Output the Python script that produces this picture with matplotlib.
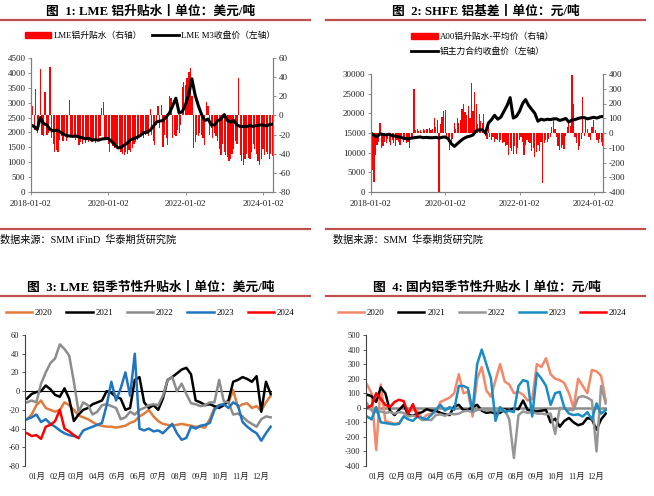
import numpy as np
import pandas as pd
import matplotlib
matplotlib.use("Agg")
import matplotlib.pyplot as plt
import matplotlib.dates as mdates
from matplotlib.lines import Line2D
from matplotlib.patches import Patch

plt.rcParams['font.family'] = ['Liberation Serif', 'Noto Sans CJK SC']
plt.rcParams['axes.unicode_minus'] = False

# ---------------- data ----------------
# LME: M3 close (monthly, USD/t) and premium/discount (semi-monthly, USD/t)
lme_price = [2250, 2200, 2100, 2500, 2300, 2250, 2100, 2050, 2080, 2020, 1950, 1900,
             1880, 1870, 1880, 1850, 1820, 1790, 1800, 1750, 1760, 1740, 1780, 1790,
             1800, 1700, 1600, 1480, 1500, 1580, 1650, 1760, 1800, 1840, 1900, 2000,
             2000, 2080, 2200, 2350, 2380, 2400, 2520, 2650, 2900, 3150, 2650, 2700,
             2950, 3300, 3800, 3250, 2900, 2600, 2400, 2450, 2250, 2250, 2400, 2450,
             2600, 2400, 2350, 2400, 2250, 2200, 2200, 2200, 2230, 2200, 2230, 2250,
             2250, 2220, 2260, 2280]
lme_prem = [-12, 10, -15, 28, -18, -10, 49, -20, -22, 25, -20, -18,
            51, -24, -30, -38, -36, -38, -26, -22, -27, -20, -27, -24,
            16, -22, -24, -20, -26, -24, -31, -28, -30, -26, -29, -25,
            -28, -24, -28, -26, -29, -27, -26, -22, 8, 14, -25, -26,
            -30, -38, -28, -32, -34, -30, -33, -35, -38, -40, -41, -38,
            -40, -36, -38, -34, -30, -28, -26, -22, -20, -18, -24, -20,
            -17, -22, 7, -20, -27, -31, -10, 10, -13, 11, -33, -20,
            -24, -31, 20, 18, -24, -20, -22, -15, -18, -10, 30, 35,
            32, 39, 45, 50, 20, -34, -28, -20, -22, -18, -20, -24,
            -31, 14, 10, -20, -13, -24, -18, -22, -27, -35, -41, -30,
            -38, -41, -43, -48, -45, -40, -35, -27, -30, 39, -41, -48,
            -52, -45, -40, -44, -45, -38, -30, -35, -40, -48, -52, -45,
            -35, -41, -38, -40, -45, -40, -42]

# SHFE: main contract close (monthly, CNY/t) and A00 premium (semi-monthly, CNY/t)
shfe_price = [15000, 14400, 14000, 14800, 14600, 14500, 14700, 14300, 14200, 14000, 13800, 13600,
              13500, 13700, 13800, 13900, 14000, 13800, 13900, 13800, 13800, 13900, 13700, 13900,
              14000, 13500, 12300, 11600, 12300, 13000, 13600, 14000, 14200, 14500, 15600, 15800,
              15800, 15000, 17500, 18400, 19500, 18500, 19000, 20500, 22000, 24000, 18800, 19200,
              20500, 22500, 23500, 22000, 21000, 20000, 18000, 18500, 18300, 18500, 18400, 18600,
              18600, 18200, 18400, 18700, 17800, 18300, 18400, 18700, 18900, 18900, 18600, 18800,
              19000, 18800, 19100, 19200]
shfe_prem = [-120, -250, -330, -150, -80, -60, 65, -100, -90, -60, -70, -40,
             -60, -80, -50, -70, -90, -50, -60, -80, -40, -60, -50, -70,
             -60, -100, -40, -30, 300, 20, 25, 15, 20, 10, 30, 20,
             25, 30, 35, 20, 30, 100, 40, 90, -400, 60, 110, 150,
             155, -25, -60, -115, -80, -40, 65, 30, 100, 70, 90, 160,
             200, 140, 120, 180, 100, 340, 150, 280, 200, 60, 130, 80,
             65, 130, -20, -40, 40, -30, -50, -25, -60, -40, -50, -60,
             -45, -70, -60, -90, -80, -150, -100, -120, -140, -90, -140, -100,
             -50, -30, -60, -150, -80, -50, -60, -70, -120, -100, -160, -130,
             -80, -120, -60, -340, -70, -50, -60, -40, -30, 40, 90, 30,
             -30, -90, -115, -100, -80, -110, -20, 40, 90, 50, 390, 200,
             -30, -70, -115, -90, -40, 245, -20, 110, 30, -30, -50, 40,
             90, 20, -50, -70, -40, -60, -90]

# seasonal series, one value per week (day 0, 7, ..., 364)
months = ['01月', '02月', '03月', '04月', '05月', '06月', '07月', '08月', '09月', '10月', '11月', '12月']
years = ['2020', '2021', '2022', '2023', '2024']

lme_2020 = [-30, -25, -15, -10, -18, -20, -22, -20, -12, -15, -20, -26, -28, -30, -33, -36, -37, -38,
            -38, -39, -38, -37, -34, -32, -27, -24, -20, -27, -32, -35, -36, -37, -36, -35, -36, -37,
            -38, -38, -39, -30, -18, -15, -14, -12, 1, -17, -14, -13, -18, -16, -21, -12, -5]
lme_2021 = [-8, -3, -1, 0, 6, 2, -4, -6, 3, -8, -32, -25, -20, -18, -14, -12, -10, 0,
            -2, -6, -8, -20, -18, 12, 15, -12, -18, -15, -20, -8, 12, 15, 19, 23, 25, 18,
            -10, -12, -15, -14, -16, -18, -15, -10, 10, 12, 15, 13, 10, 16, -22, 10, -3]
lme_2022 = [-12, -10, -12, 8, 20, 30, 35, 50, 45, 38, 10, -22, -12, -15, -25, -22, -15, -14,
            -16, -18, -30, -28, -22, -25, -20, -18, -15, -14, -15, -5, 12, 15, 0, 8, -3, -13,
            -14, -16, -15, -12, -12, 12, -11, -12, -25, -24, -27, -32, -35, -38, -30, -27, -28]
lme_2023 = [-30, -28, -25, -33, -30, -35, -38, -42, -45, -47, -48, -50, -42, -40, -38, -36, -34, -15,
            10, -10, 3, 20, -5, 40, -40, -42, -40, -43, -42, -45, -40, -35, -45, -52, -50, -38,
            -40, -37, -36, -34, -20, -15, -14, -18, -12, -15, -33, -38, -42, -45, -53, -45, -38]
lme_2024 = [-45, -48, -47, -51, -38, -36, -32, -20, -40, -43, -47, -50]

cn_2020 = [160, 100, -290, 160, -90, -100, -110, -105, -60, -20, -15, -20, -80, -50, -40, -30, 40, 55,
           70, 100, 230, 100, 110, -60, 200, 280, 120, 75, 190, 300, 180, 160, 100, 110, 90, 50,
           60, 300, 280, 340, 230, 200, 190, 170, 100, 0, 200, 150, 100, 260, 250, 220, 50]
cn_2021 = [90, 80, 40, 140, 100, -20, -50, -15, 20, -50, -55, -40, -30, -10, -20, -20, -35, -45,
           -50, 10, 20, -15, -15, 5, 20, -20, -35, -30, -40, -35, -10, -15, -5, -10, 50, -15,
           -20, -25, -20, -15, -100, -75, -130, -90, -70, -100, -120, -110, -70, -80, -150, -80, -40]
cn_2022 = [30, -20, -30, -25, -35, -30, -40, -30, -35, -60, -55, -60, -85, -80, -85, -50, -45, -55,
           -40, -45, -40, -25, -20, -30, -15, -10, -20, -15, -25, -20, -15, -80, -345, -50, -25, -35,
           -30, -40, -40, -45, -40, -180, 0, -5, -15, -15, 70, 80, 70, 50, -300, 150, 30]
cn_2023 = [-60, -80, 5, -100, -105, -110, -115, -110, -60, -80, -90, -60, -70, -80, -50, -15, 20, -20,
           5, -15, 150, 150, 135, -20, 300, 400, 300, 200, -90, 5, -30, -20, -30, 150, 190, 180,
           -60, 240, 200, 150, 20, 100, 110, 0, -40, -50, -45, -60, -30, -80, 30, -40, -15]
cn_2024 = [0, 15, 100, 60, 20, 5, 40, 55, 45, -40, 25, -60]

# ---------------- figure ----------------
W, H = 654, 496
fig = plt.figure(figsize=(W / 100, H / 100), dpi=100)
RULE = '#c0504d'


def box(l, t, r, b):
    return [l / W, 1 - b / H, (r - l) / W, (b - t) / H]


def hline(x0, x1, y):
    fig.add_artist(Line2D([x0 / W, x1 / W], [1 - y / H, 1 - y / H], color=RULE, lw=1.6))


def ftext(x, y, s, **kw):
    fig.text(x / W, 1 - y / H, s, **kw)


# titles, rules and sources
ftext(151, 12, '图  1: LME 铝升贴水丨单位：美元/吨', ha='center', va='center', fontsize=9.2, fontweight='bold')
ftext(486, 12, '图  2: SHFE 铝基差丨单位：元/吨', ha='center', va='center', fontsize=9.2, fontweight='bold')
ftext(151, 288, '图  3: LME 铝季节性升贴水丨单位：美元/吨', ha='center', va='center', fontsize=9.2, fontweight='bold')
ftext(487, 288, '图  4: 国内铝季节性升贴水丨单位：元/吨', ha='center', va='center', fontsize=9.2, fontweight='bold')
hline(0, 310, 19.5)
hline(326, 645, 19.5)
hline(0, 310, 229)
hline(326, 645, 229)
hline(0, 310, 296)
hline(326, 645, 296)
ftext(0, 240, '数据来源：SMM iFinD  华泰期货研究院', ha='left', va='center', fontsize=7.3)
ftext(333, 240, '数据来源：SMM  华泰期货研究院', ha='left', va='center', fontsize=7.3)

TICK_KW = dict(labelsize=6.5, length=2.5, width=0.6, color='#7f7f7f', labelcolor='#222222', pad=1.5)


def dual_panel(rect, dates_p, price, dates_b, prem, ylim_l, step_l, ylim_r, step_r, xend):
    ax = fig.add_axes(rect)
    axr = ax.twinx()
    axr.bar(dates_b, prem, width=12, color='#ff0000', linewidth=0, align='center')
    ax.plot(dates_p, price, color='black', lw=2.2)
    ax.set_zorder(axr.get_zorder() + 1)
    ax.patch.set_visible(False)
    ax.set_ylim(*ylim_l)
    ax.set_yticks(np.arange(ylim_l[0], ylim_l[1] + 1, step_l))
    axr.set_ylim(*ylim_r)
    axr.set_yticks(np.arange(ylim_r[0], ylim_r[1] + 1, step_r))
    ax.set_xlim(pd.Timestamp('2018-01-02'), pd.Timestamp(xend))
    ax.set_xticks([pd.Timestamp(d) for d in ['2018-01-02', '2020-01-02', '2022-01-02', '2024-01-02']])
    ax.xaxis.set_major_formatter(mdates.DateFormatter('%Y-%m-%d'))
    for a in (ax, axr):
        a.spines['top'].set_visible(False)
        for s in ('left', 'right', 'bottom'):
            a.spines[s].set_color('#7f7f7f')
            a.spines[s].set_linewidth(0.8)
        a.tick_params(**TICK_KW)
    ax.tick_params(axis='x', pad=3)
    return ax, axr


price_dates = pd.date_range('2018-01-01', periods=len(lme_price), freq='MS')
prem_dates = pd.date_range('2018-01-01', periods=len(lme_prem), freq='SMS')
dual_panel(box(31, 58, 273, 192), price_dates, lme_price, prem_dates, lme_prem,
           (0, 4500), 500, (-80, 60), 20, '2024-04-05')
fig.legend([Patch(color='#ff0000'), Line2D([], [], color='black', lw=2)],
           ['LME铝升贴水（右轴）', 'LME M3收盘价（左轴）'],
           loc='center', bbox_to_anchor=(150 / W, 1 - 36 / H), ncol=2, frameon=False,
           fontsize=6.3, handlelength=3.0, handleheight=0.6, columnspacing=1.2, handletextpad=0.3)

price_dates2 = pd.date_range('2018-01-01', periods=len(shfe_price), freq='MS')
prem_dates2 = pd.date_range('2018-01-01', periods=len(shfe_prem), freq='SMS')
dual_panel(box(371, 74, 603, 192), price_dates2, shfe_price, prem_dates2, shfe_prem,
           (0, 30000), 5000, (-400, 400), 100, '2024-04-01')
fig.legend([Patch(color='#ff0000'), Line2D([], [], color='black', lw=2)],
           ['A00铝升贴水-平均价（右轴）', '铝主力合约收盘价（左轴）'],
           loc='center', bbox_to_anchor=(483 / W, 1 - 44.5 / H), ncol=1, frameon=False,
           fontsize=6.3, handlelength=3.0, handleheight=0.6, labelspacing=0.75, handletextpad=0.3)

# seasonal panels
month_mid = np.array([0, 31, 59, 90, 120, 151, 181, 212, 243, 273, 304, 334]) + 15


def season_panel(rect, xlim, series, colors, ylim, step, zero_color, zero_lw, legend_x):
    ax = fig.add_axes(rect)
    ax.axhline(0, color=zero_color, lw=zero_lw, zorder=1)
    handles = []
    for vals, c in zip(series, colors):
        days = np.arange(len(vals)) * 7
        h, = ax.plot(days, vals, color=c, lw=1.8, zorder=2)
        handles.append(h)
    ax.set_xlim(*xlim)
    ax.set_ylim(*ylim)
    ax.set_yticks(np.arange(ylim[0], ylim[1] + 1, step))
    ax.set_xticks(month_mid)
    ax.set_xticklabels(months)
    for s in ('top', 'right', 'bottom'):
        ax.spines[s].set_visible(False)
    ax.spines['left'].set_color('#404040')
    ax.spines['left'].set_linewidth(0.8)
    ax.tick_params(axis='y', labelsize=6, length=2.5, width=0.6, color='#404040', labelcolor='#222222', pad=1.5)
    ax.tick_params(axis='x', labelsize=6, length=0, labelcolor='#222222', pad=5)
    fig.legend(handles, years, loc='center', bbox_to_anchor=(legend_x / W, 1 - 313 / H), ncol=5,
               frameon=False, fontsize=6.3, handlelength=3.0, columnspacing=1.6, handletextpad=0.3)
    return ax


season_panel(box(25, 335, 272, 466), (-3, 366),
             [lme_2020, lme_2021, lme_2022, lme_2023, lme_2024],
             ['#e07b39', '#000000', '#8c8c8c', '#1f75c0', '#ff0000'],
             (-80, 60), 20, '#000000', 0.8, 150)
season_panel(box(366, 335, 607, 466), (-1.5, 366),
             [cn_2020, cn_2021, cn_2022, cn_2023, cn_2024],
             ['#f4886a', '#000000', '#969696', '#1a8cc4', '#ff0000'],
             (-400, 500), 100, '#8c8c8c', 1.8, 482)

fig.savefig('out.png', dpi=100)
